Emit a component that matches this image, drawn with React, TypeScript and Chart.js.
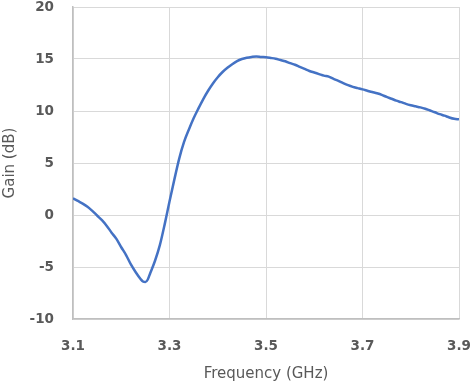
import React, { useEffect, useRef } from "react";
import { Chart, registerables } from "chart.js";

Chart.register(...registerables);

const freqGHz = [
  3.10, 3.11, 3.12, 3.13, 3.14, 3.15, 3.16, 3.17, 3.18, 3.19,
  3.20, 3.21, 3.22, 3.23, 3.24, 3.245, 3.25, 3.255, 3.26, 3.27, 3.28, 3.29,
  3.30, 3.31, 3.32, 3.33, 3.34, 3.35, 3.36, 3.37, 3.38, 3.39,
  3.40, 3.41, 3.42, 3.43, 3.44, 3.45, 3.46, 3.47, 3.48, 3.49,
  3.50, 3.51, 3.52, 3.53, 3.54, 3.55, 3.56, 3.57, 3.58, 3.59,
  3.60, 3.61, 3.62, 3.63, 3.64, 3.65, 3.66, 3.67, 3.68, 3.69,
  3.70, 3.71, 3.72, 3.73, 3.74, 3.75, 3.76, 3.77, 3.78, 3.79,
  3.80, 3.81, 3.82, 3.83, 3.84, 3.85, 3.86, 3.87, 3.88, 3.89, 3.90,
];

const gainDB = [
  1.6, 1.35, 1.1, 0.8, 0.4, -0.05, -0.5, -1.05, -1.7, -2.3,
  -3.1, -3.85, -4.75, -5.5, -6.15, -6.4, -6.45, -6.2, -5.6, -4.4, -2.9, -0.9,
  1.3, 3.4, 5.4, 7.0, 8.2, 9.3, 10.25, 11.15, 11.95, 12.65,
  13.25, 13.75, 14.15, 14.5, 14.8, 15.0, 15.12, 15.2, 15.25, 15.2,
  15.17, 15.1, 15.02, 14.9, 14.78, 14.6, 14.45, 14.25, 14.05, 13.85,
  13.7, 13.55, 13.4, 13.3, 13.08, 12.9, 12.68, 12.48, 12.32, 12.2,
  12.08, 11.95, 11.82, 11.7, 11.55, 11.35, 11.18, 11.0, 10.85, 10.68,
  10.55, 10.45, 10.35, 10.22, 10.05, 9.88, 9.7, 9.55, 9.38, 9.25, 9.2,
];

const xTicks = [3.1, 3.3, 3.5, 3.7, 3.9];
const yTicks = [-10, -5, 0, 5, 10, 15, 20];
const xTitle = "Frequency (GHz)";
const yTitle = "Gain (dB)";

export default function App() {
  const ref = useRef<HTMLCanvasElement | null>(null);

  useEffect(() => {
    if (!ref.current) return;
    const tickFont = { family: "DejaVu Sans", size: 13.5, weight: "bold" as const };
    const titleFont = { family: "DejaVu Sans", size: 15, weight: "normal" as const };
    const chart = new Chart(ref.current, {
      type: "line",
      data: {
        datasets: [
          {
            data: freqGHz.map((f, i) => ({ x: f, y: gainDB[i] })),
            borderColor: "#4472C4",
            borderWidth: 2.5,
            pointRadius: 0,
            cubicInterpolationMode: "monotone",
            fill: false,
          },
        ],
      },
      options: {
        animation: false,
        responsive: false,
        layout: { padding: { top: 7, right: 13, bottom: 0, left: 0 } },
        plugins: { legend: { display: false }, tooltip: { enabled: false } },
        scales: {
          x: {
            type: "linear",
            min: xTicks[0],
            max: xTicks[xTicks.length - 1],
            afterBuildTicks: (scale: any) => {
              scale.ticks = xTicks.map((v) => ({ value: v }));
            },
            afterFit: (scale: any) => {
              scale.height = 64;
              scale.paddingLeft = 0;
              scale.paddingRight = 0;
            },
            ticks: {
              font: tickFont,
              color: "#595959",
              padding: 19,
              maxRotation: 0,
              autoSkip: false,
              callback: (v: any) => Number(v).toFixed(1),
            },
            grid: { color: "#d9d9d9", lineWidth: 1, drawTicks: false },
            border: { color: "#bfbfbf", width: 1.5 },
            title: {
              display: true,
              text: xTitle,
              font: titleFont,
              color: "#595959",
              padding: { top: 0, bottom: 0 },
            },
          },
          y: {
            type: "linear",
            min: yTicks[0],
            max: yTicks[yTicks.length - 1],
            afterBuildTicks: (scale: any) => {
              scale.ticks = yTicks.map((v) => ({ value: v }));
            },
            afterFit: (scale: any) => {
              scale.width = 73;
              scale.paddingTop = 0;
              scale.paddingBottom = 0;
            },
            ticks: {
              font: tickFont,
              color: "#595959",
              padding: 19,
              callback: (v: any) => String(v),
            },
            grid: { color: "#d9d9d9", lineWidth: 1, drawTicks: false },
            border: { color: "#bfbfbf", width: 1.5 },
            title: {
              display: true,
              text: yTitle,
              font: titleFont,
              color: "#595959",
              padding: { top: 1, bottom: 0 },
            },
          },
        },
      },
    });
    return () => chart.destroy();
  }, []);

  return (
    <div style={{ position: "absolute", left: 0, top: 0, width: 472, height: 383, background: "#fff" }}>
      <canvas ref={ref} width={472} height={383} />
    </div>
  );
}
